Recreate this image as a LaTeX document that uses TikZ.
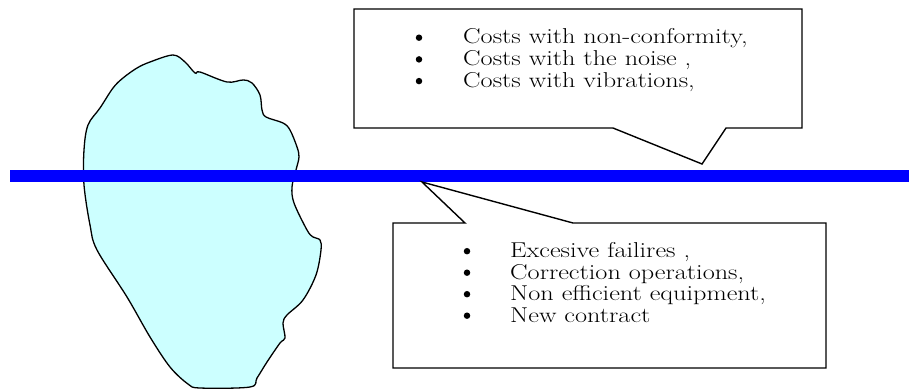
\documentclass[tikz,border=0pt]{standalone}
\usepackage{fontspec}
\usepackage{graphicx}
\newcommand\widetxt[1]{\scalebox{1.22}[1]{#1}}
\tikzset{
  callout/.style={draw=black, line width=1.4pt, fill=white, line join=miter},
  txt/.style={anchor=base west, inner sep=0pt, font=\fontsize{21.5}{22}\selectfont},
  bul/.style={circle, fill=black, inner sep=0pt, minimum size=6.5pt},
  water/.style={draw={rgb,255:red,0;green,0;blue,255}, line width=12pt},
  ice/.style={draw=black, line width=1.3pt, fill={rgb,255:red,204;green,255;blue,255}}
}
\begin{document}
\begin{tikzpicture}[x=1pt, y=-1pt]
\useasboundingbox (0,0) rectangle (909,390);
% iceberg
\draw[ice] plot[smooth cycle, tension=0.55] coordinates {
 (173,55) (185,62) (195,73) (200,72) (227,82) (243,80) (252,83) (260,95)
 (262,110) (266,117) (283,123) (290,130) (297,147) (299,157) (296,170)
 (292,187) (294,203) (307,230) (313,237) (320,240) (321,250) (316,275)
 (303,300) (287,315) (283,323) (285,338) (280,343) (267,362) (257,378)
 (250,387) (200,388) (188,384) (170,367) (150,337) (127,297) (97,250)
 (90,225) (84,185) (84,150) (88,125) (100,108) (113,88) (123,78)
 (137,68) (150,62)};
% water line
\coordinate (wl) at (10,176);
\coordinate (wr) at (909,176);
\draw[water] (wl) -- (wr);
% top callout
\draw[callout] (354,9) -- (802,9) -- (802,128) -- (726,128) -- (702,164)
  -- (613,128) -- (354,128) -- cycle;
% bottom callout
\draw[callout] (393,223) -- (465,223) -- (422,182) -- (573,223) -- (826,223)
  -- (826,368) -- (393,368) -- cycle;
% top texts
\node[bul] (b1) at (419,37.7) {};
\node[bul] (b2) at (419,59.4) {};
\node[bul] (b3) at (419,81.1) {};
\node[txt] (t1) at (463,44) {\widetxt{Costs with non-conformity,}};
\node[txt] (t2) at (463,65.7) {\widetxt{Costs with the noise ,}};
\node[txt] (t3) at (463,87.4) {\widetxt{Costs with vibrations,}};
% bottom texts
\node[bul] (c1) at (467,251.2) {};
\node[bul] (c2) at (467,272.7) {};
\node[bul] (c3) at (467,294.2) {};
\node[bul] (c4) at (467,315.7) {};
\node[txt] (s1) at (510,257.5) {\widetxt{Excesive failires ,}};
\node[txt] (s2) at (510,279) {\widetxt{Correction operations,}};
\node[txt] (s3) at (510,300.5) {\widetxt{Non efficient equipment,}};
\node[txt] (s4) at (510,322) {\widetxt{New contract}};
\end{tikzpicture}
\end{document}
